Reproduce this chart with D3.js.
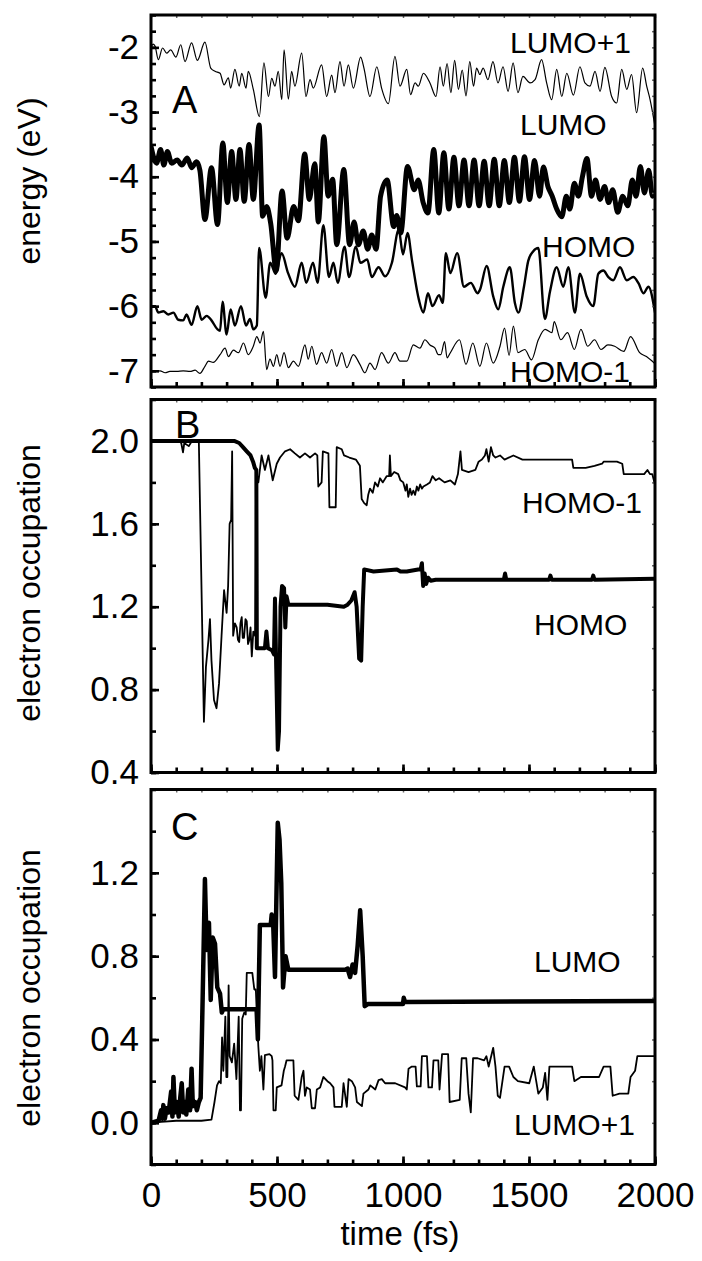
<!DOCTYPE html>
<html lang="en">
<head>
<meta charset="utf-8">
<script src="https://d3js.org/d3.v7.min.js"></script>
<style>
  body { margin: 0; background: #fff; }
  text { font-family: "Liberation Sans", Arial, sans-serif; fill: #000; }
</style>
<title>orbital energies and occupations</title>
</head>
<body>
<script>
// ---- data (time in fs, value) ----
var timeTicks = [0, 500, 1000, 1500, 2000];
var energyTicks = [-7, -6, -5, -4, -3, -2];
var occTicksB = [0.4, 0.8, 1.2, 1.6, 2.0];
var occTicksC = [0.0, 0.4, 0.8, 1.2];

// panel A: orbital energies (eV)
var aLumo1 = [[0,-2.02],[8,-1.95],[16,-1.98],[29,-2.19],[46,-2.01],[62,-2.09],[78,-2.04],[99,-2.15],[118,-1.96],[135,-2.22],[161,-1.93],[184,-2.2],[214,-1.92],[237,-2.32],[254,-2.37],[274,-2.4],[290,-2.58],[307,-2.47],[316,-2.63],[333,-2.34],[350,-2.6],[360,-2.4],[377,-2.63],[386,-2.37],[406,-2.65],[430,-3.07],[448,-2.24],[466,-2.76],[479,-2.48],[492,-2.6],[505,-2.37],[519,-2.81],[528,-2.04],[545,-2.8],[558,-2.37],[571,-2.6],[598,-2.09],[615,-2.76],[631,-2.5],[644,-2.63],[677,-2.27],[697,-2.76],[717,-2.43],[730,-2.7],[750,-2.22],[766,-2.6],[783,-2.27],[803,-2.63],[832,-2.15],[845,-2.32],[869,-2.76],[896,-2.3],[915,-2.63],[942,-2.87],[968,-2.14],[988,-2.6],[1015,-2.34],[1030,-2.73],[1048,-2.55],[1061,-2.6],[1081,-2.4],[1107,-2.55],[1131,-2.76],[1147,-2.3],[1160,-2.6],[1175,-2.25],[1190,-2.7],[1205,-2.2],[1220,-2.65],[1235,-2.35],[1250,-2.75],[1265,-2.22],[1280,-2.6],[1292,-2.32],[1305,-2.42],[1318,-2.32],[1337,-2.5],[1357,-2.22],[1377,-2.55],[1397,-2.3],[1417,-2.68],[1437,-2.24],[1456,-2.7],[1476,-2.45],[1504,-2.55],[1524,-2.5],[1550,-2.19],[1570,-2.55],[1590,-2.81],[1610,-2.34],[1630,-2.76],[1650,-2.4],[1676,-2.74],[1702,-2.3],[1722,-2.55],[1742,-2.6],[1762,-2.37],[1782,-2.68],[1801,-2.31],[1828,-2.76],[1848,-2.86],[1868,-2.34],[1888,-2.65],[1907,-2.42],[1927,-3.01],[1951,-2.32],[1967,-2.6],[1980,-2.8],[2000,-3.22]];

var aLumo = [[0,-3.53],[22,-3.79],[38,-3.58],[51,-3.82],[65,-3.61],[82,-3.79],[104,-3.74],[122,-3.82],[144,-3.71],[161,-3.86],[181,-3.77],[194,-3.9],[214,-4.66],[240,-3.86],[264,-4.74],[285,-3.48],[303,-4.4],[320,-3.61],[337,-4.35],[353,-3.58],[370,-4.38],[389,-3.5],[406,-4.35],[429,-3.2],[443,-4.61],[459,-4.46],[475,-4.72],[497,-5.45],[520,-4.22],[540,-4.95],[566,-4.46],[585,-4.68],[610,-3.65],[628,-4.35],[650,-3.8],[664,-4.7],[686,-3.38],[703,-4.3],[721,-4.04],[737,-5.05],[765,-3.89],[788,-5.05],[806,-4.7],[823,-5.05],[842,-4.84],[860,-5.12],[876,-4.9],[893,-5.12],[911,-4.3],[937,-4.05],[963,-4.77],[975,-4.6],[991,-4.87],[1018,-3.84],[1045,-4.2],[1060,-4.05],[1080,-4.4],[1099,-4.56],[1122,-3.58],[1142,-4.56],[1162,-3.63],[1182,-4.5],[1202,-3.7],[1222,-4.45],[1242,-3.74],[1262,-4.45],[1282,-3.74],[1302,-4.45],[1322,-3.76],[1342,-4.45],[1362,-3.73],[1382,-4.45],[1402,-3.75],[1422,-4.4],[1442,-3.7],[1462,-4.38],[1482,-3.69],[1502,-4.35],[1522,-3.75],[1542,-4.3],[1557,-3.85],[1575,-4.15],[1592,-4.3],[1610,-4.5],[1630,-4.62],[1648,-4.3],[1662,-4.5],[1680,-4.1],[1696,-4.3],[1712,-4.0],[1730,-3.72],[1748,-4.3],[1764,-4.05],[1782,-4.35],[1800,-4.15],[1816,-4.4],[1832,-4.2],[1852,-4.55],[1872,-4.3],[1892,-4.45],[1910,-4.05],[1925,-4.3],[1942,-3.84],[1958,-4.25],[1975,-3.9],[1990,-4.3],[2000,-4.28]];

var aHomo = [[0,-6.0],[16,-6.0],[29,-6.1],[49,-6.08],[69,-6.13],[89,-6.1],[108,-6.21],[128,-6.22],[141,-6.13],[161,-6.29],[184,-6.0],[201,-6.21],[221,-6.15],[240,-6.22],[264,-6.36],[274,-6.38],[284,-5.93],[300,-6.44],[316,-6.05],[333,-6.3],[357,-6.0],[377,-6.3],[393,-6.2],[406,-6.36],[420,-6.3],[429,-5.1],[455,-5.87],[473,-5.33],[495,-5.5],[518,-5.18],[544,-5.49],[571,-5.7],[598,-5.33],[616,-5.64],[643,-5.33],[661,-5.64],[684,-4.75],[706,-5.55],[724,-5.33],[741,-5.64],[768,-5.08],[786,-5.55],[813,-5.08],[831,-5.33],[858,-5.28],[876,-5.55],[903,-5.4],[929,-5.54],[956,-5.33],[983,-4.82],[1000,-5.2],[1018,-4.87],[1036,-5.3],[1063,-5.9],[1081,-6.1],[1099,-5.8],[1117,-6.0],[1143,-5.83],[1158,-5.95],[1170,-5.18],[1188,-5.49],[1215,-5.18],[1242,-5.7],[1269,-5.64],[1296,-5.8],[1305,-5.75],[1332,-5.38],[1358,-5.85],[1378,-6.05],[1398,-5.7],[1424,-5.4],[1444,-5.95],[1458,-6.1],[1480,-5.7],[1497,-5.3],[1517,-5.15],[1537,-5.1],[1563,-6.2],[1583,-5.78],[1610,-5.4],[1636,-5.7],[1656,-5.4],[1682,-6.1],[1702,-5.5],[1729,-5.85],[1755,-6.0],[1775,-5.5],[1795,-5.45],[1815,-5.55],[1834,-5.6],[1861,-5.4],[1888,-5.6],[1914,-5.55],[1935,-5.65],[1954,-5.8],[1974,-5.7],[2000,-6.1]];

var aHomo1 = [[0,-7.01],[16,-7.01],[36,-7.0],[56,-7.03],[75,-7.01],[102,-7.01],[128,-7.0],[155,-7.01],[175,-6.99],[194,-7.04],[214,-6.93],[228,-6.85],[247,-6.87],[274,-6.75],[294,-6.65],[307,-6.78],[327,-6.68],[347,-6.72],[367,-6.57],[386,-6.75],[406,-6.62],[420,-6.47],[433,-6.57],[446,-6.39],[459,-6.98],[472,-6.82],[486,-6.93],[499,-6.75],[512,-6.93],[528,-6.72],[545,-6.95],[565,-6.85],[585,-6.93],[611,-6.6],[624,-6.82],[638,-6.62],[657,-6.9],[677,-6.72],[697,-6.88],[717,-6.67],[737,-6.93],[757,-6.72],[777,-6.95],[803,-6.75],[829,-6.9],[849,-7.03],[869,-6.88],[889,-6.98],[915,-6.72],[942,-6.88],[968,-6.72],[988,-6.85],[1015,-6.85],[1041,-6.6],[1067,-6.65],[1087,-6.52],[1107,-6.6],[1127,-6.65],[1140,-6.75],[1150,-6.75],[1165,-6.55],[1175,-6.8],[1188,-6.72],[1224,-6.52],[1250,-6.9],[1277,-6.57],[1305,-6.93],[1331,-6.57],[1358,-6.88],[1385,-6.62],[1403,-6.34],[1421,-6.76],[1438,-6.31],[1456,-6.72],[1483,-6.67],[1510,-6.83],[1537,-6.52],[1564,-6.36],[1591,-6.41],[1600,-6.24],[1626,-6.52],[1653,-6.41],[1680,-6.67],[1706,-6.36],[1733,-6.62],[1760,-6.52],[1786,-6.67],[1813,-6.6],[1840,-6.62],[1876,-6.7],[1903,-6.47],[1939,-6.72],[1966,-6.78],[2000,-6.89]];

// panel B: electron occupation
var bHomo1 = [[0,2.0],[110,2.0],[120,1.99],[127,1.945],[132,1.99],[150,1.975],[160,1.995],[185,2.0],[190,1.99],[210,0.645],[218,0.91],[228,1.04],[234,1.14],[240,0.94],[250,0.75],[260,0.71],[270,0.83],[280,1.06],[290,1.28],[300,1.17],[306,1.3],[312,1.6],[318,1.62],[322,1.95],[326,1.06],[333,1.12],[340,1.1],[345,1.04],[350,1.03],[355,1.12],[360,1.15],[364,1.05],[369,1.05],[375,1.14],[380,1.13],[385,1.02],[390,1.04],[395,1.1],[400,0.96],[406,1.08],[413,1.06],[417,1.86],[426,1.8],[439,1.93],[452,1.86],[466,1.93],[483,1.81],[499,1.89],[512,1.92],[532,1.95],[552,1.96],[571,1.94],[591,1.92],[611,1.94],[631,1.92],[651,1.94],[660,1.93],[664,1.78],[677,1.8],[682,1.95],[704,1.94],[708,1.68],[733,1.68],[737,1.97],[757,1.96],[766,1.93],[787,1.92],[813,1.91],[829,1.88],[836,1.72],[846,1.7],[856,1.69],[862,1.74],[869,1.77],[880,1.75],[889,1.8],[900,1.78],[909,1.82],[920,1.8],[935,1.83],[945,1.83],[948,1.93],[952,1.83],[965,1.85],[981,1.84],[990,1.81],[1001,1.8],[1010,1.76],[1015,1.79],[1021,1.73],[1028,1.77],[1034,1.74],[1041,1.76],[1048,1.74],[1055,1.78],[1061,1.76],[1068,1.79],[1075,1.77],[1081,1.78],[1095,1.79],[1107,1.8],[1117,1.83],[1130,1.81],[1143,1.82],[1165,1.8],[1188,1.81],[1206,1.79],[1218,1.84],[1228,1.95],[1234,1.86],[1260,1.85],[1287,1.86],[1300,1.9],[1313,1.91],[1325,1.93],[1331,1.96],[1340,1.9],[1349,1.97],[1358,1.93],[1367,1.92],[1385,1.93],[1403,1.91],[1438,1.93],[1474,1.91],[1546,1.91],[1617,1.91],[1671,1.91],[1676,1.87],[1725,1.87],[1760,1.88],[1790,1.89],[1796,1.9],[1849,1.9],[1870,1.89],[1876,1.84],[1903,1.84],[1957,1.84],[1970,1.86],[1980,1.84],[1989,1.84],[2000,1.79]];

var bHomo = [[0,2.0],[330,2.0],[350,1.99],[365,1.97],[380,1.95],[395,1.93],[405,1.9],[412,1.87],[418,1.86],[420,1.0],[440,1.0],[452,1.0],[458,1.08],[464,1.0],[480,0.99],[488,0.97],[492,1.24],[497,0.9],[503,0.51],[508,0.6],[514,1.2],[520,1.3],[528,1.29],[533,1.1],[538,1.25],[545,1.21],[565,1.21],[600,1.21],[700,1.21],[765,1.2],[780,1.21],[795,1.23],[808,1.27],[816,1.2],[826,0.95],[834,0.94],[840,1.2],[846,1.38],[883,1.37],[976,1.38],[990,1.37],[1015,1.37],[1060,1.38],[1070,1.38],[1075,1.41],[1080,1.3],[1086,1.36],[1092,1.31],[1100,1.34],[1110,1.325],[1130,1.33],[1400,1.33],[1405,1.36],[1410,1.33],[1580,1.33],[1585,1.35],[1590,1.33],[1750,1.33],[1755,1.35],[1760,1.33],[2000,1.335]];

// panel C: electron occupation
var cLumo = [[0,0.0],[30,0.01],[40,0.06],[45,0.02],[49,0.085],[55,0.02],[62,0.07],[70,0.05],[80,0.15],[85,0.03],[89,0.22],[95,0.05],[102,0.1],[110,0.03],[116,0.12],[122,0.19],[128,0.05],[135,0.1],[140,0.04],[148,0.16],[155,0.06],[161,0.26],[166,0.08],[175,0.1],[182,0.06],[190,0.1],[197,0.12],[205,0.6],[214,1.17],[221,0.83],[230,0.96],[237,0.59],[245,0.89],[254,0.86],[263,0.65],[274,0.62],[281,0.53],[287,0.545],[419,0.545],[424,0.4],[432,0.95],[475,0.95],[479,1.0],[485,0.95],[492,0.7],[503,1.44],[510,1.36],[517,1.15],[524,0.65],[534,0.8],[545,0.735],[770,0.735],[780,0.74],[790,0.7],[800,0.76],[810,0.72],[820,0.85],[830,1.02],[840,0.8],[848,0.56],[860,0.57],[1000,0.57],[1003,0.6],[1008,0.58],[2000,0.585]];

var cLumo1 = [[0,0.0],[40,0.005],[100,0.01],[200,0.01],[240,0.015],[252,0.1],[262,0.18],[270,0.2],[277,0.19],[282,0.41],[287,0.25],[295,0.51],[299,0.22],[303,0.22],[308,0.66],[312,0.32],[321,0.29],[330,0.38],[339,0.21],[348,0.51],[353,0.06],[357,0.06],[362,0.5],[370,0.53],[376,0.52],[380,0.72],[402,0.72],[410,0.64],[416,0.64],[420,0.52],[426,0.365],[432,0.25],[438,0.32],[446,0.16],[452,0.325],[470,0.33],[479,0.32],[482,0.3],[486,0.06],[495,0.06],[499,0.17],[518,0.18],[527,0.25],[532,0.27],[538,0.3],[565,0.3],[570,0.13],[585,0.11],[598,0.22],[605,0.25],[611,0.13],[618,0.17],[631,0.16],[638,0.07],[651,0.07],[658,0.16],[671,0.17],[684,0.22],[700,0.2],[711,0.19],[724,0.17],[728,0.077],[757,0.077],[764,0.19],[777,0.077],[784,0.21],[797,0.2],[810,0.17],[817,0.1],[837,0.08],[843,0.14],[863,0.16],[870,0.18],[890,0.16],[903,0.205],[916,0.21],[929,0.19],[969,0.19],[1008,0.17],[1015,0.16],[1022,0.26],[1035,0.27],[1050,0.27],[1055,0.175],[1070,0.175],[1075,0.32],[1095,0.32],[1101,0.17],[1115,0.17],[1121,0.3],[1140,0.3],[1145,0.16],[1155,0.33],[1179,0.33],[1185,0.1],[1225,0.11],[1233,0.31],[1251,0.31],[1260,0.14],[1269,0.05],[1278,0.31],[1296,0.31],[1322,0.3],[1331,0.32],[1340,0.27],[1358,0.36],[1367,0.27],[1376,0.13],[1385,0.12],[1403,0.27],[1421,0.27],[1438,0.22],[1456,0.2],[1501,0.19],[1519,0.27],[1537,0.14],[1555,0.17],[1564,0.24],[1573,0.11],[1581,0.27],[1671,0.27],[1680,0.2],[1706,0.22],[1778,0.22],[1796,0.27],[1823,0.27],[1832,0.13],[1859,0.14],[1894,0.14],[1903,0.22],[1921,0.25],[1930,0.32],[2000,0.32]];

// ---- layout ----
var w = 702, h = 1261;
var left = 151, right = 655;

var svg = d3.select("body").append("svg")
  .attr("width", w)
  .attr("height", h);

var x = d3.scaleLinear().domain([0, 2000]).range([left, right]);

// plain hyphen for negatives, as in the original figure
var intFmt = function(d) { return String(d); };

var panels = [
  { id: "A", top: 15, bottom: 387, domain: [-7.25, -1.5], ticks: energyTicks, minorStep: 0.25,
    fmt: intFmt, title: "energy (eV)", titleY: 181, letter: [172, 113],
    series: [
      { data: aLumo1, width: 1.2, curve: d3.curveMonotoneX },
      { data: aHomo1, width: 1.2, curve: d3.curveMonotoneX },
      { data: aHomo, width: 2.4, curve: d3.curveMonotoneX },
      { data: aLumo, width: 5, curve: d3.curveMonotoneX }
    ],
    labels: [["LUMO+1", 510, 53], ["LUMO", 520, 135], ["HOMO", 542, 257], ["HOMO-1", 510, 382]] },
  { id: "B", top: 399.5, bottom: 772.5, domain: [0.4, 2.2], ticks: occTicksB, minorStep: 0.2,
    fmt: d3.format(".1f"), title: "electron occupation", titleY: 583, letter: [175, 438],
    series: [
      { data: bHomo1, width: 1.8, curve: d3.curveLinear },
      { data: bHomo, width: 4, curve: d3.curveLinear }
    ],
    labels: [["HOMO-1", 522, 513], ["HOMO", 534, 635]] },
  { id: "C", top: 789.5, bottom: 1164.5, domain: [-0.2, 1.6], ticks: occTicksC, minorStep: 0.2,
    fmt: d3.format(".1f"), title: "electron occupation", titleY: 988, letter: [171, 840],
    series: [
      { data: cLumo1, width: 1.8, curve: d3.curveLinear },
      { data: cLumo, width: 4.5, curve: d3.curveLinear }
    ],
    labels: [["LUMO", 534, 972], ["LUMO+1", 514, 1135]] }
];

var minorTime = d3.range(0, 2001, 100);

panels.forEach(function(p, i) {
  var y = d3.scaleLinear().domain(p.domain).range([p.bottom, p.top]);
  var g = svg.append("g");

  // clip to the frame
  g.append("clipPath").attr("id", "clip" + p.id)
    .append("rect")
    .attr("x", left).attr("y", p.top)
    .attr("width", right - left).attr("height", p.bottom - p.top);

  var line = d3.line()
    .x(function(d) { return x(d[0]); })
    .y(function(d) { return y(d[1]); });

  var plot = g.append("g").attr("clip-path", "url(#clip" + p.id + ")");
  p.series.forEach(function(s) {
    plot.append("path")
      .datum(s.data)
      .attr("d", line.curve(s.curve))
      .attr("fill", "none")
      .attr("stroke", "#000")
      .attr("stroke-width", s.width)
      .attr("stroke-linejoin", "round");
  });

  // minor ticks (every minorStep) on y
  var minorY = d3.range(Math.ceil(p.domain[0] / p.minorStep) * p.minorStep, p.domain[1] + 1e-9, p.minorStep)
    .map(function(v) { return +v.toFixed(3); });

  var yMinor = g.append("g").attr("transform", "translate(" + left + ",0)")
    .call(d3.axisLeft(y).tickValues(minorY).tickSize(-5).tickFormat(""));
  var yMajor = g.append("g").attr("transform", "translate(" + left + ",0)")
    .call(d3.axisLeft(y).tickValues(p.ticks).tickSize(-8).tickPadding(12).tickFormat(p.fmt));
  yMajor.selectAll("text").style("font-size", "35px");

  var yRight = g.append("g").attr("transform", "translate(" + right + ",0)")
    .call(d3.axisRight(y).tickValues(minorY).tickSize(-3).tickFormat(""));
  yRight.selectAll("line").attr("stroke", "#666").attr("stroke-width", 1.5);

  var xMinor = g.append("g").attr("transform", "translate(0," + p.bottom + ")")
    .call(d3.axisBottom(x).tickValues(minorTime).tickSize(-5).tickFormat(""));
  var xMajor = g.append("g").attr("transform", "translate(0," + p.bottom + ")")
    .call(d3.axisBottom(x).tickValues(timeTicks).tickSize(-8).tickPadding(18)
      .tickFormat(i === 2 ? d3.format("d") : ""));
  xMajor.selectAll("text").style("font-size", "35px");

  var xTop = g.append("g").attr("transform", "translate(0," + p.top + ")")
    .call(d3.axisTop(x).tickValues(minorTime).tickSize(-3).tickFormat(""));
  xTop.selectAll("line").attr("stroke", "#666").attr("stroke-width", 1.5);

  [yMinor, yMajor, xMinor, xMajor].forEach(function(a) {
    a.selectAll("line").attr("stroke-width", 2.6);
  });
  g.selectAll(".domain").remove();

  // frame
  g.append("rect")
    .attr("x", left).attr("y", p.top)
    .attr("width", right - left).attr("height", p.bottom - p.top)
    .attr("fill", "none")
    .attr("stroke", "#000")
    .attr("stroke-width", 3);

  // axis title
  g.append("text")
    .attr("transform", "translate(40," + p.titleY + ") rotate(-90)")
    .attr("text-anchor", "middle")
    .style("font-size", "32px")
    .text(p.title);

  // panel letter
  g.append("text")
    .attr("x", p.letter[0]).attr("y", p.letter[1])
    .style("font-size", "38px")
    .text(p.id);

  // curve labels
  p.labels.forEach(function(l) {
    g.append("text")
      .attr("x", l[1]).attr("y", l[2])
      .style("font-size", "30px")
      .text(l[0]);
  });
});

svg.append("text")
  .attr("x", 400).attr("y", 1245)
  .attr("text-anchor", "middle")
  .style("font-size", "33px")
  .text("time (fs)");
</script>
</body>
</html>
